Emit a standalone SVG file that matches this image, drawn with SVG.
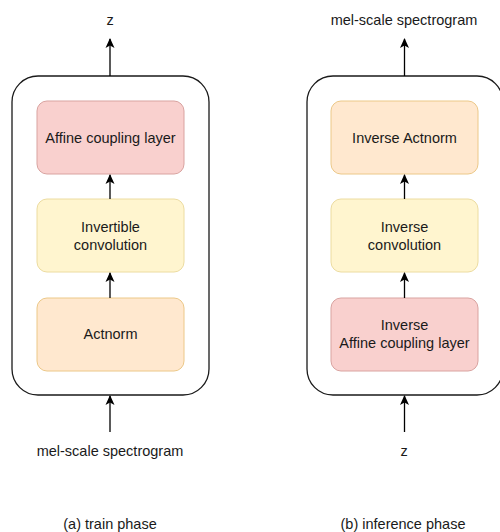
<svg xmlns="http://www.w3.org/2000/svg" width="500" height="532" viewBox="0 0 500 532">
<defs>
<marker id="ah" viewBox="0 0 10 10" refX="9" refY="5" markerWidth="10" markerHeight="10" markerUnits="userSpaceOnUse" orient="auto">
<path d="M0,0.5 L10,5 L0,9.5 L2.5,5 Z" fill="#000"/>
</marker>
</defs>
<style>
text{font-family:"Liberation Sans",Arial,Helvetica,sans-serif;font-size:14.5px;fill:#1a1a1a;text-anchor:middle;dominant-baseline:central}
.outer{fill:#fff;stroke:#1a1a1a;stroke-width:1.3}
.pink{fill:#f9d0ce;stroke:#d9a3a0;stroke-width:1}
.yellow{fill:#fff5cf;stroke:#ecdca0;stroke-width:1}
.orange{fill:#ffe8cf;stroke:#ecc888;stroke-width:1}
.conn{stroke:#000;stroke-width:1.3;fill:none;marker-end:url(#ah)}
</style>
<g id="container-a"><rect class="outer" x="12" y="76" width="197" height="319" rx="26"/></g>
<g id="container-b"><rect class="outer" x="307" y="76" width="196" height="319" rx="26"/></g>
<g id="affine-a"><rect class="pink" x="37" y="101" width="147" height="73" rx="10"/><text x="110.5" y="137.5">Affine coupling layer</text></g>
<g id="invconv-a"><rect class="yellow" x="37" y="199" width="147" height="73" rx="10"/><text x="110.5" y="227">Invertible</text><text x="110.5" y="244.5">convolution</text></g>
<g id="actnorm-a"><rect class="orange" x="37" y="298" width="147" height="73" rx="10"/><text x="110.5" y="333.5">Actnorm</text></g>
<g id="invact-b"><rect class="orange" x="331" y="101" width="147" height="73" rx="10"/><text x="404.5" y="137.5">Inverse Actnorm</text></g>
<g id="invconv-b"><rect class="yellow" x="331" y="199" width="147" height="73" rx="10"/><text x="404.5" y="227">Inverse</text><text x="404.5" y="244.5">convolution</text></g>
<g id="invaffine-b"><rect class="pink" x="331" y="298" width="147" height="73" rx="10"/><text x="404.5" y="325">Inverse</text><text x="404.5" y="343">Affine coupling layer</text></g>
<g id="labels">
<text x="110" y="20">z</text>
<text x="110" y="451">mel-scale spectrogram</text>
<text x="110" y="524">(a) train phase</text>
<text x="404" y="20">mel-scale spectrogram</text>
<text x="404" y="451">z</text>
<text x="403" y="524">(b) inference phase</text>
</g>
<g id="connectors">
<line class="conn" x1="110" y1="76" x2="110" y2="39"/>
<line class="conn" x1="110" y1="199" x2="110" y2="175"/>
<line class="conn" x1="110" y1="298" x2="110" y2="273"/>
<line class="conn" x1="110" y1="432" x2="110" y2="396"/>
<line class="conn" x1="404.5" y1="76" x2="404.5" y2="39"/>
<line class="conn" x1="404.5" y1="199" x2="404.5" y2="175"/>
<line class="conn" x1="404.5" y1="298" x2="404.5" y2="273"/>
<line class="conn" x1="404.5" y1="432" x2="404.5" y2="396"/>
</g>
</svg>
